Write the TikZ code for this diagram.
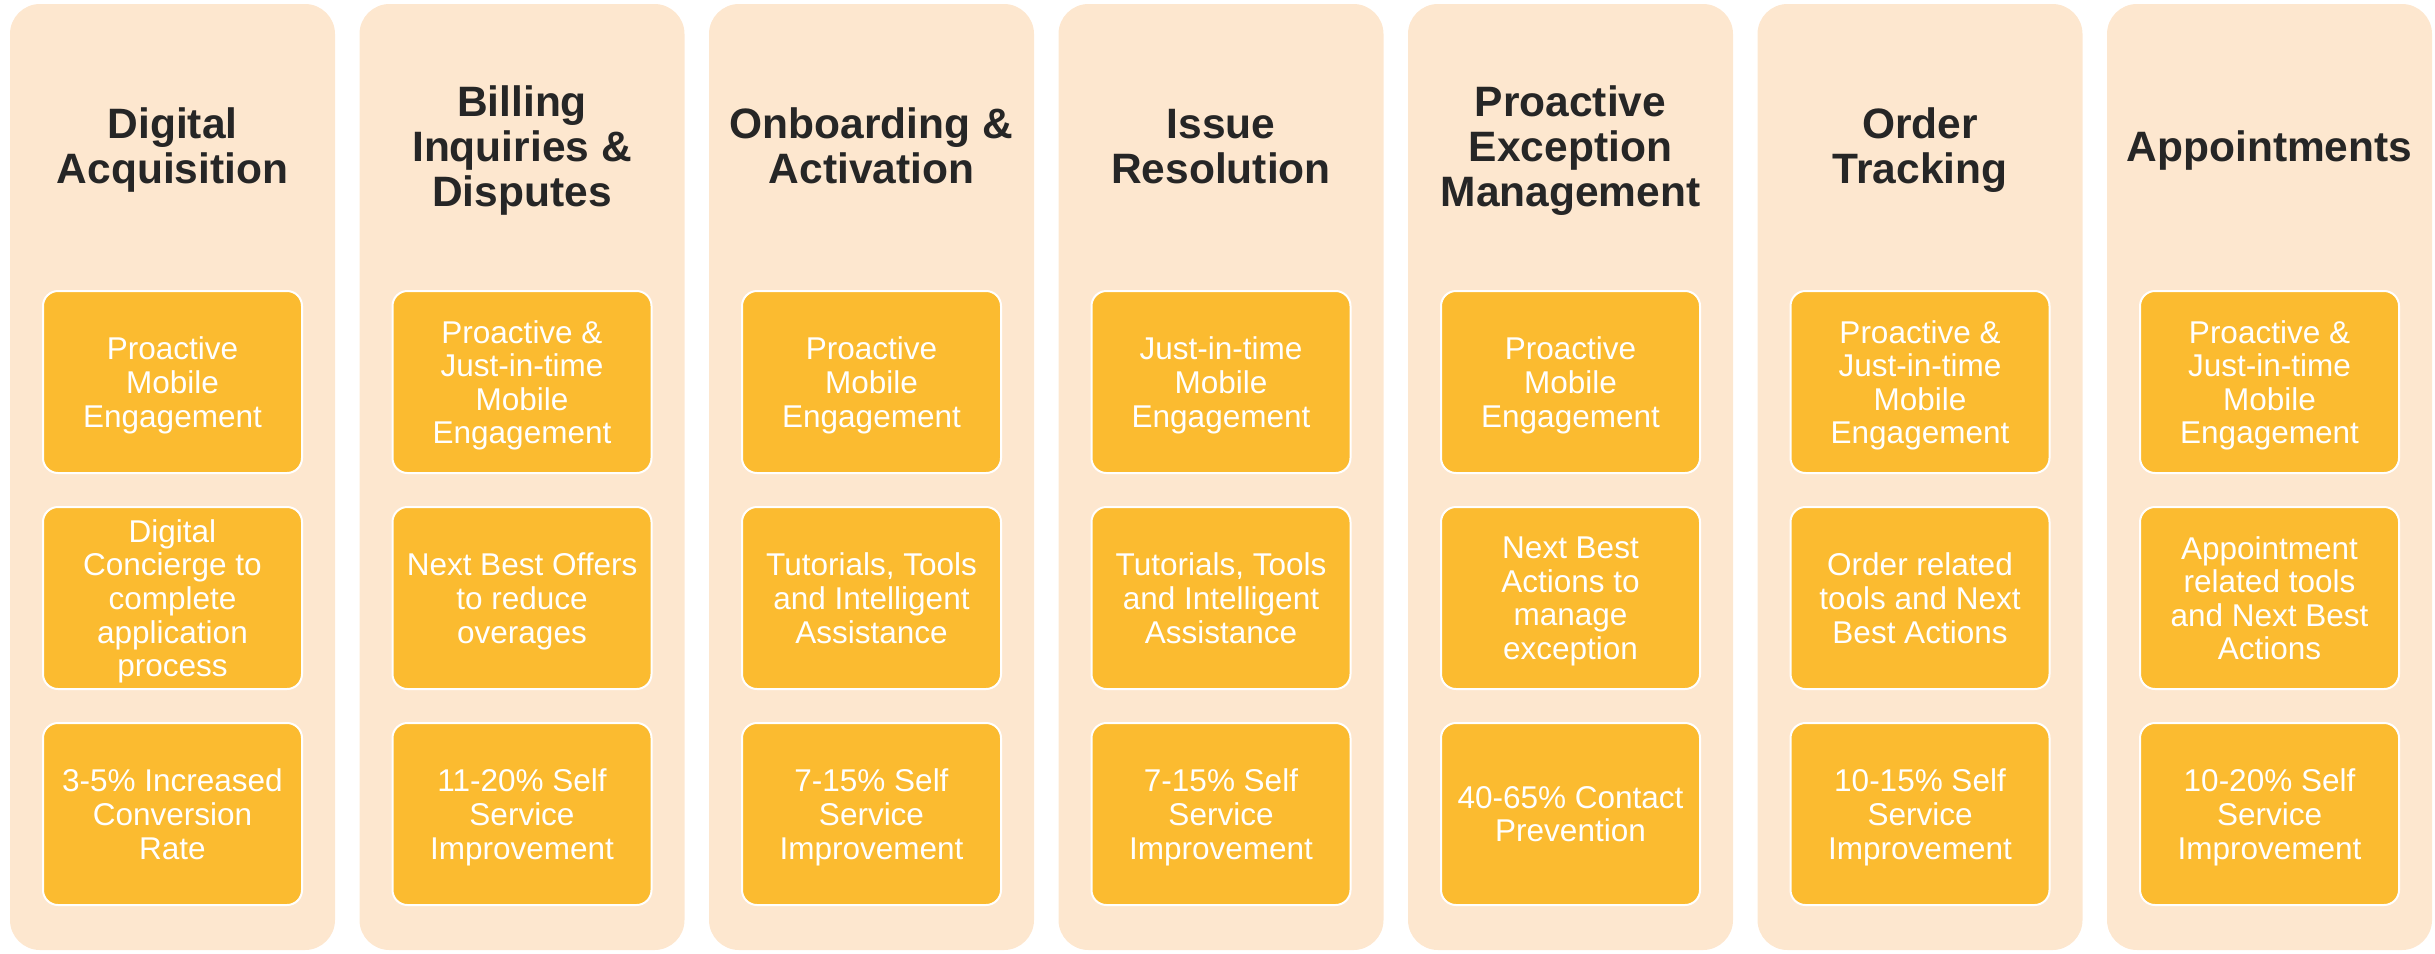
\documentclass[tikz,border=0pt]{standalone}
\usepackage{fontspec}
\setmainfont{Liberation Sans}
\begin{document}
\definecolor{lane}{HTML}{FDE7CF}
\definecolor{cell}{HTML}{FBBB30}
\definecolor{ink}{HTML}{262626}
\begin{tikzpicture}[x=1pt,y=-1pt,
  lanebox/.style={fill=lane,draw=none,rounded corners=30pt,minimum width=325pt,minimum height=946pt,inner sep=0pt},
  heading/.style={text=ink,align=center,inner sep=0pt,text depth=0pt,font=\fontsize{42.5}{45}\selectfont\bfseries},
  cellbox/.style={fill=cell,draw=white,line width=2pt,rounded corners=15pt,minimum width=259pt,minimum height=182pt,inner sep=0pt,text depth=0pt,text=white,align=center,font=\fontsize{31.5}{33.6}\selectfont}]
\useasboundingbox (0,0) rectangle (2435,953);

% column 1
\node[lanebox] (L1) at (172.5,477) {};
\node[heading] (H1) at (172.5,146) {Digital\\Acquisition};
\node[cellbox] (A1) at (172.5,382) {Proactive\\Mobile\\Engagement};
\node[cellbox] (B1) at (172.5,598) {Digital\\Concierge to\\complete\\application\\process};
\node[cellbox] (C1) at (172.5,814) {3-5\% Increased\\Conversion\\Rate};

% column 2
\node[lanebox] (L2) at (522,477) {};
\node[heading] (H2) at (522,146) {Billing\\Inquiries \&\\Disputes};
\node[cellbox] (A2) at (522,382) {Proactive \&\\Just-in-time\\Mobile\\Engagement};
\node[cellbox] (B2) at (522,598) {Next Best Offers\\to reduce\\overages};
\node[cellbox] (C2) at (522,814) {11-20\% Self\\Service\\Improvement};

% column 3
\node[lanebox] (L3) at (871.5,477) {};
\node[heading] (H3) at (871.5,146) {Onboarding \&\\Activation};
\node[cellbox] (A3) at (871.5,382) {Proactive\\Mobile\\Engagement};
\node[cellbox] (B3) at (871.5,598) {Tutorials, Tools\\and Intelligent\\Assistance};
\node[cellbox] (C3) at (871.5,814) {7-15\% Self\\Service\\Improvement};

% column 4
\node[lanebox] (L4) at (1221,477) {};
\node[heading] (H4) at (1221,146) {Issue\\Resolution};
\node[cellbox] (A4) at (1221,382) {Just-in-time\\Mobile\\Engagement};
\node[cellbox] (B4) at (1221,598) {Tutorials, Tools\\and Intelligent\\Assistance};
\node[cellbox] (C4) at (1221,814) {7-15\% Self\\Service\\Improvement};

% column 5
\node[lanebox] (L5) at (1570.5,477) {};
\node[heading] (H5) at (1570.5,146) {Proactive\\Exception\\Management};
\node[cellbox] (A5) at (1570.5,382) {Proactive\\Mobile\\Engagement};
\node[cellbox] (B5) at (1570.5,598) {Next Best\\Actions to\\manage\\exception};
\node[cellbox] (C5) at (1570.5,814) {40-65\% Contact\\Prevention};

% column 6
\node[lanebox] (L6) at (1920,477) {};
\node[heading] (H6) at (1920,146) {Order\\Tracking};
\node[cellbox] (A6) at (1920,382) {Proactive \&\\Just-in-time\\Mobile\\Engagement};
\node[cellbox] (B6) at (1920,598) {Order related\\tools and Next\\Best Actions};
\node[cellbox] (C6) at (1920,814) {10-15\% Self\\Service\\Improvement};

% column 7
\node[lanebox] (L7) at (2269.5,477) {};
\node[heading] (H7) at (2269.5,146) {Appointments};
\node[cellbox] (A7) at (2269.5,382) {Proactive \&\\Just-in-time\\Mobile\\Engagement};
\node[cellbox] (B7) at (2269.5,598) {Appointment\\related tools\\and Next Best\\Actions};
\node[cellbox] (C7) at (2269.5,814) {10-20\% Self\\Service\\Improvement};
\end{tikzpicture}
\end{document}
